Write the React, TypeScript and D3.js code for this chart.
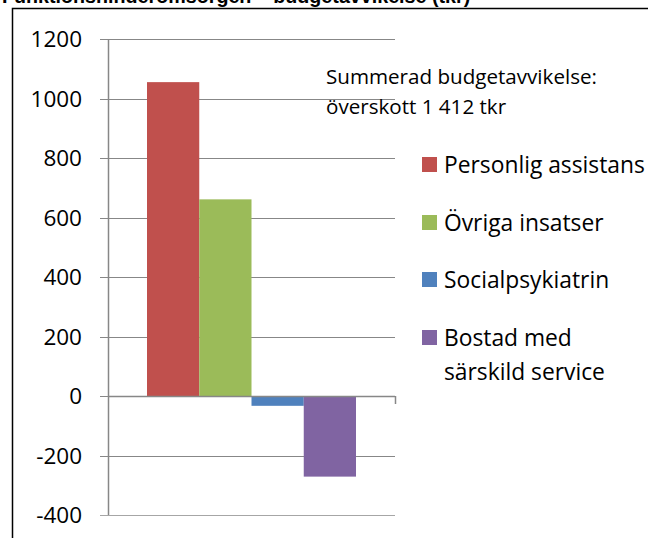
import React from "react";
import * as d3 from "d3";

const title = "Funktionshinderomsorgen – budgetavvikelse (tkr)";
const categories = ["Personlig assistans", "Övriga insatser", "Socialpsykiatrin", "Bostad med särskild service"];
const legendLines = [["Personlig assistans"], ["Övriga insatser"], ["Socialpsykiatrin"], ["Bostad med", "särskild service"]];
const values = [1055, 661, -33, -271];
const colors = ["#C0504D", "#9BBB59", "#4F81BD", "#8064A2"];
const yTicks = [-400, -200, 0, 200, 400, 600, 800, 1000, 1200];
const noteLines = ["Summerad budgetavvikelse:", "överskott 1 412 tkr"];

export default function App() {
  const W = 648, H = 538;
  const x0 = 108, x1 = 395;
  const y = d3.scaleLinear().domain([-400, 1200]).range([515, 39]);
  const xb = d3.scaleBand<string>().domain(categories).range([x0 + 39, x1 - 39]).padding(0);
  const font = "'Open Sans', sans-serif";
  const legendY = [165, 223, 280, 338];
  return (
    <svg width={W} height={H} style={{ position: "absolute", left: 0, top: 0, background: "#fff" }}>
      <rect x={0} y={0} width={W} height={H} fill="#fff" />
      <text x={2} y={3} fontFamily="'Liberation Sans', Arial, sans-serif" fontWeight="bold" fontSize={19.7} fill="#000">{title}</text>
      <path d={`M12.5,${H} V8.5 H${W}`} fill="none" stroke="#000" strokeWidth={1.5} />
      {yTicks.map((t) => (
        <g key={t}>
          <line x1={100} x2={x1} y1={Math.round(y(t)) + 0.5} y2={Math.round(y(t)) + 0.5} stroke={t === -400 ? "#a6a6a6" : "#878787"} strokeWidth={1.2} />
          <text x={82} y={y(t)} dy="0.36em" textAnchor="end" fontFamily={font} fontSize={22.5} fill="#000">{t}</text>
        </g>
      ))}
      <line x1={x0 + 0.5} x2={x0 + 0.5} y1={y(1200)} y2={y(-400)} stroke="#878787" strokeWidth={1.5} />
      {categories.map((c, i) => (
        <rect key={c} x={xb(c)} width={xb.bandwidth()} y={y(Math.max(0, values[i]))} height={Math.abs(y(values[i]) - y(0))} fill={colors[i]} />
      ))}
      <line x1={x0} x2={x1} y1={Math.round(y(0)) + 0.5} y2={Math.round(y(0)) + 0.5} stroke="#878787" strokeWidth={1.5} />
      <line x1={x1 + 0.5} x2={x1 + 0.5} y1={y(0)} y2={y(0) + 8} stroke="#878787" strokeWidth={1.5} />
      {noteLines.map((l, i) => (
        <text key={l} x={326} y={77 + i * 30} dy="0.36em" fontFamily={font} fontSize={20.6} fill="#000">{l}</text>
      ))}
      {legendLines.map((lines, i) => (
        <g key={i}>
          <rect x={422} y={legendY[i] - 8} width={15} height={15} fill={colors[i]} />
          {lines.map((l, j) => (
            <text key={l} x={444} y={legendY[i] + j * 34} dy="0.36em" fontFamily={font} fontSize={22.8} fill="#000">{l}</text>
          ))}
        </g>
      ))}
    </svg>
  );
}
